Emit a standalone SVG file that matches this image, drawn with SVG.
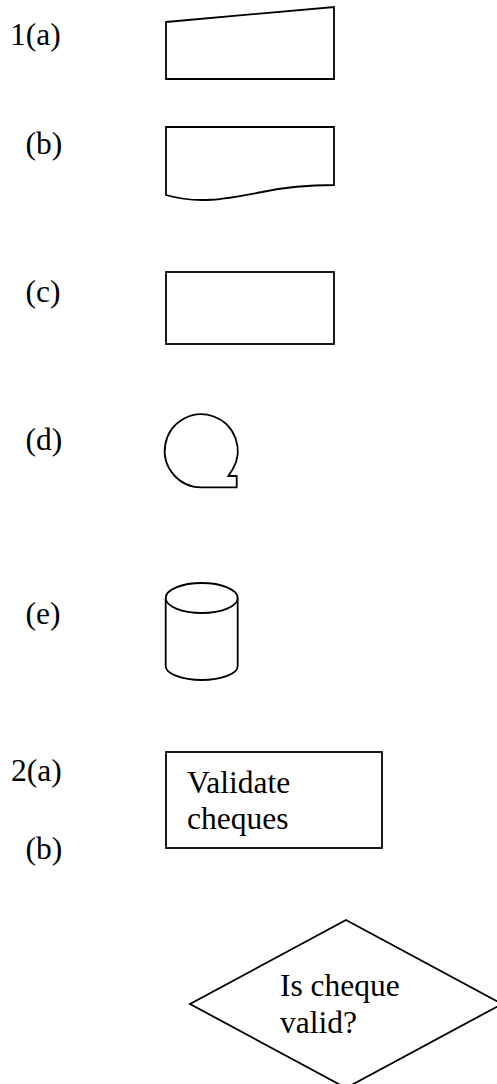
<svg xmlns="http://www.w3.org/2000/svg" width="497" height="1084" viewBox="0 0 497 1084">
<style>
.s{fill:#fff;stroke:#000;stroke-width:1.8;stroke-linejoin:miter}
.t{font-family:"Liberation Serif","Times New Roman",serif;font-size:31.5px;fill:#000}
</style>
<rect width="497" height="1084" fill="#fff"/>
<g id="labels">
<text class="t" x="10" y="45">1(a)</text>
<text class="t" x="25.5" y="154">(b)</text>
<text class="t" x="25.5" y="302">(c)</text>
<text class="t" x="25.5" y="450">(d)</text>
<text class="t" x="25.5" y="624">(e)</text>
<text class="t" x="11" y="781">2(a)</text>
<text class="t" x="25.5" y="859">(b)</text>
</g>
<g id="manual-input">
<polygon class="s" points="166,22 334,7 334,79 166,79"/>
</g>
<g id="document">
<path class="s" d="M166,127 H334 V185 C310,185 290,186 262,192 C230,198 200,205 166,195 Z"/>
</g>
<g id="process">
<rect class="s" x="166" y="272" width="168" height="72"/>
</g>
<g id="magnetic-tape">
<path class="s" d="M201.8,487.3 A36.5,36.5 0 1 1 232.7,469.3 L228.3,476 H236.7 V487.3 Z"/>
</g>
<g id="disk-storage">
<path class="s" d="M165.7,598 V666 A36,14 0 0 0 237.7,666 V598"/>
<ellipse class="s" cx="201.7" cy="598" rx="36" ry="15"/>
</g>
<g id="validate-cheques">
<rect class="s" x="166" y="752" width="216" height="96"/>
<text class="t" x="187" y="793">Validate</text>
<text class="t" x="187" y="829">cheques</text>
</g>
<g id="is-cheque-valid">
<polygon class="s" points="346,920 502,1004 346,1088 190,1004"/>
<text class="t" x="280" y="996">Is cheque</text>
<text class="t" x="280" y="1033">valid?</text>
</g>
<g id="connectors"/>
</svg>
